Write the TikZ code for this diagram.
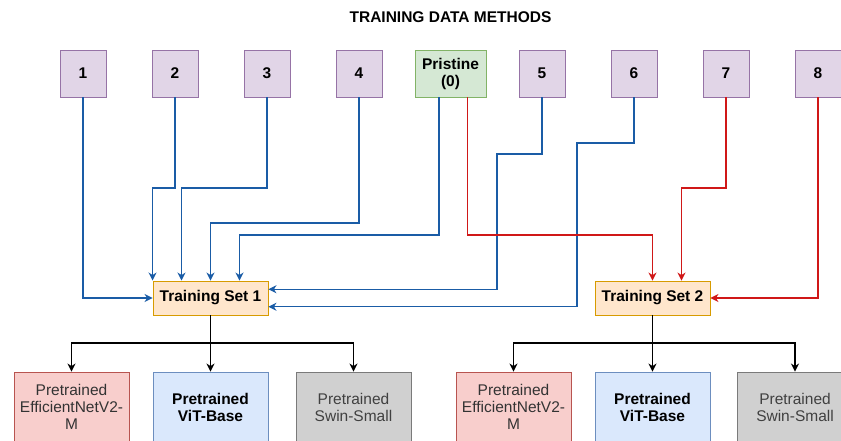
\documentclass[tikz,border=0pt]{standalone}
\usepackage{fontspec}
\setmainfont{Liberation Sans}
\usetikzlibrary{arrows.meta,calc}

\definecolor{method fill}{HTML}{E1D5E7}
\definecolor{method line}{HTML}{9673A6}
\definecolor{pristine fill}{HTML}{D5E8D4}
\definecolor{pristine line}{HTML}{82B366}
\definecolor{set fill}{HTML}{FFE6CC}
\definecolor{set line}{HTML}{D79B00}
\definecolor{eff fill}{HTML}{F8CECC}
\definecolor{eff line}{HTML}{B85450}
\definecolor{vit fill}{HTML}{DAE8FC}
\definecolor{vit line}{HTML}{6C8EBF}
\definecolor{swin fill}{HTML}{D0D0D0}
\definecolor{swin line}{HTML}{7A7A7A}
\definecolor{model text}{HTML}{333333}
\definecolor{swin text}{HTML}{404040}
\definecolor{set1 color}{HTML}{1A5CA6}
\definecolor{set2 color}{HTML}{D01818}

\newcommand{\diagfont}{\fontsize{15.5}{17}\selectfont}

\tikzset{
  box/.style={draw, line width=0.9pt, inner sep=1pt, align=center},
  method/.style={box, fill=method fill, draw=method line, minimum width=46, minimum height=47, font=\diagfont\bfseries},
  pristine/.style={box, fill=pristine fill, draw=pristine line, minimum width=71, minimum height=47, font=\diagfont\bfseries},
  trainset/.style={box, fill=set fill, draw=set line, minimum width=115, minimum height=34, font=\diagfont\bfseries},
  model/.style={box, minimum width=115, minimum height=70},
  eff/.style={model, fill=eff fill, draw=eff line, text=model text, font=\diagfont},
  vit/.style={model, fill=vit fill, draw=vit line, font=\diagfont\bfseries},
  swin/.style={model, fill=swin fill, draw=swin line, text=swin text, font=\diagfont},
}

\begin{document}
\begin{tikzpicture}[x=1pt, y=-1pt, line width=1.1pt,
    >={Stealth[length=8pt, width=8pt, inset=2.5pt]}]
    \useasboundingbox (0,0) rectangle (841,441);

    \node (title) at (450.5,17) [font=\diagfont\bfseries] {TRAINING DATA METHODS};

    \foreach \n/\x in {1/83, 2/175, 3/267, 4/359, 5/542, 6/634, 7/726, 8/818}
        \node [method] (m\n) at (\x,73.5) {\n};
    \node [pristine] (pr) at (450.5,73.5) {Pristine\\(0)};
    \coordinate (pr blue) at ($(pr.south west)!.34!(pr.south east)$);
    \coordinate (pr red) at ($(pr.south west)!.74!(pr.south east)$);

    \node [trainset] (ts1) at (210.5,298) {Training Set 1};
    \node [trainset] (ts2) at (652.5,298) {Training Set 2};

    \foreach \s/\a/\b/\c in {1/71.5/210.5/353.5, 2/513.5/652.5/795} {
        \node [eff] (eff\s) at (\a,407) {Pretrained\\EfficientNetV2-\\M};
        \node [vit] (vit\s) at (\b,407) {Pretrained\\ViT-Base};
        \node [swin] (swin\s) at (\c,407) {Pretrained\\Swin-Small};
    }

    \begin{scope}[set1 color, ->]
        \draw (m1.south) |- (ts1.west);
        \draw (m2.south) -- (m2.south |- 0,188) -| (ts1.north west);
        \draw (m3.south) -- (m3.south |- 0,188) -| ($(ts1.north west)!.25!(ts1.north east)$);
        \draw (m4.south) -- (m4.south |- 0,223) -| (ts1.north);
        \draw (pr blue) -- (pr blue |- 0,235) -| ($(ts1.north west)!.75!(ts1.north east)$);
        \draw (m5.south) |- (497,154) |- ($(ts1.north east)!.25!(ts1.south east)$);
        \draw (m6.south) |- (577,143) |- ($(ts1.north east)!.75!(ts1.south east)$);
    \end{scope}

    \begin{scope}[set2 color, ->]
        \draw (pr red) -- (pr red |- 0,235) -| (ts2.north);
        \draw (m7.south) -- (m7.south |- 0,188) -| ($(ts2.north west)!.75!(ts2.north east)$);
        \draw (m8.south) |- (ts2.east);
    \end{scope}

    \foreach \s in {1,2} {
        \draw [->] (ts\s.south) -- (ts\s.south |- 0,343) -| (eff\s.north);
        \draw [->] (ts\s.south) -- (ts\s.south |- 0,343) -| (swin\s.north);
        \draw [->] (ts\s.south) -- (vit\s.north);
    }
\end{tikzpicture}
\end{document}
